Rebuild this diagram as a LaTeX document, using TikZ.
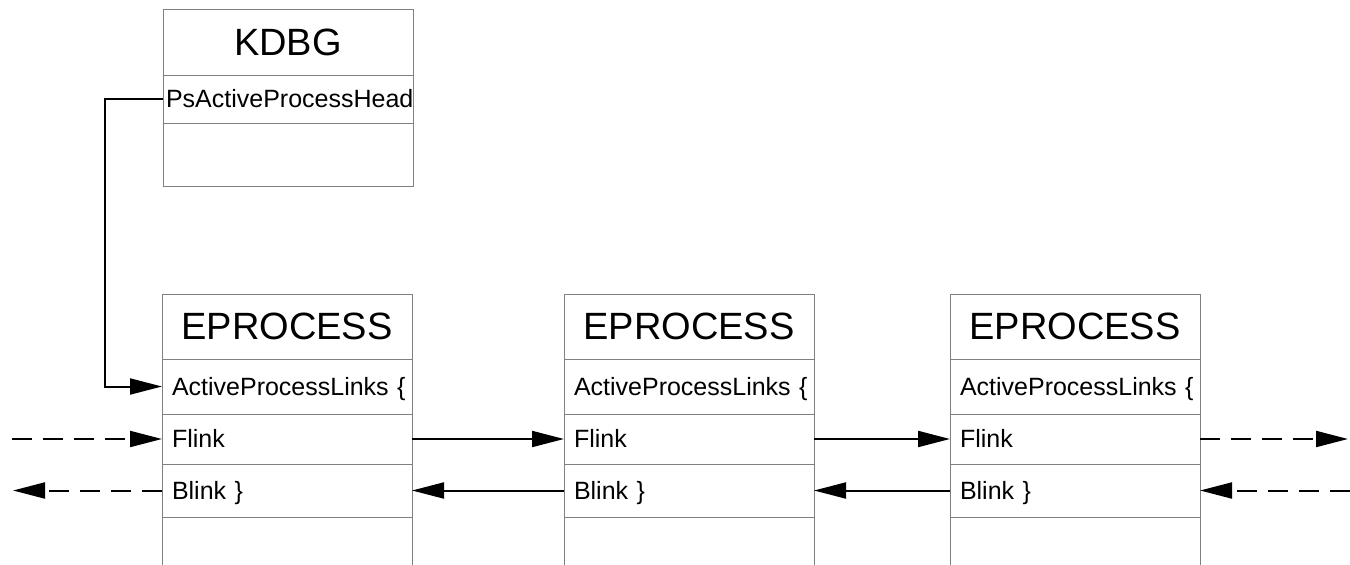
\documentclass[tikz,border=0pt]{standalone}
\usepackage{fontspec}
\setmainfont{Liberation Sans}
\usetikzlibrary{arrows.meta, positioning}
\definecolor{boxgray}{RGB}{128,128,128}

\begin{document}
\begin{tikzpicture}[x=1pt, y=-1pt, node distance=0pt,
  every node/.style={outer sep=0pt},
  titlebox/.style={draw=boxgray, line width=1pt, inner xsep=10pt, text width=230pt, align=center,
    font=\fontsize{38}{40}\selectfont, text height=26pt, text depth=0pt},
  fieldbox/.style={draw=boxgray, line width=1pt, inner xsep=10pt, text width=230pt, align=left,
    font=\fontsize{25}{28}\selectfont, text height=17pt, text depth=0pt},
  link/.style={line width=2pt, -{Triangle[length=32pt, width=16pt]}},
  dlink/.style={link, dash pattern=on 20pt off 11pt}]

  \useasboundingbox (0,0) rectangle (1350,565);
  \clip (0,0) rectangle (1350,565);

  % KDBG block
  \node[titlebox, minimum height=66pt, anchor=north west] (kdbg) at (163,9) {KDBG};
  \node[fieldbox, minimum height=48pt, inner xsep=3pt, text width=244pt, below=of kdbg] (head) {PsActiveProcessHead};
  \node[fieldbox, minimum height=63pt, below=of head] (kdbgrest) {};

  % EPROCESS blocks
  \foreach \i/\x in {1/162, 2/564, 3/950}{
    \node[titlebox, minimum height=65pt, anchor=north west] (ep\i) at (\x,294) {EPROCESS};
    \node[fieldbox, minimum height=55pt, below=of ep\i] (apl\i) {ActiveProcessLinks~\{};
    \node[fieldbox, minimum height=50pt, below=of apl\i] (fl\i) {Flink};
    \node[fieldbox, minimum height=53pt, below=of fl\i] (bl\i) {Blink \}};
    \node[fieldbox, minimum height=60pt, below=of bl\i] (rest\i) {};
  }

  % list head pointer
  \draw[link] (head.west) -- ++(-58,0) |- (apl1.west);

  % forward links
  \draw[link] (fl1.east) -- (fl2.west);
  \draw[link] (fl2.east) -- (fl3.west);

  % backward links
  \draw[link] (bl2.west) -- (bl1.east);
  \draw[link] (bl3.west) -- (bl2.east);

  % rest of the list
  \path (fl1.west) ++(-150,0) coordinate (inF);
  \path (bl1.west) ++(-149,0) coordinate (outB);
  \path (fl3.east) ++(148,0) coordinate (outF);
  \path (bl3.east) ++(150,0) coordinate (inB);
  \draw[dlink] (inF) -- (fl1.west);
  \draw[dlink] (bl1.west) -- (outB);
  \draw[dlink] (fl3.east) -- (outF);
  \draw[dlink] (inB) -- (bl3.east);
\end{tikzpicture}
\end{document}
